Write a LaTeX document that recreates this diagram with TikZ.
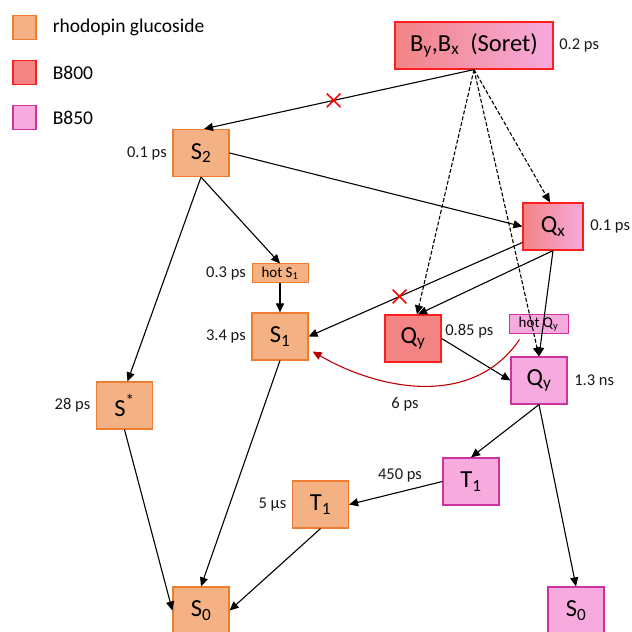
\documentclass[tikz,border=0pt]{standalone}
\usepackage{fontspec}
\setmainfont{Carlito}
\usetikzlibrary{arrows}
\usetikzlibrary{positioning}
\usetikzlibrary{arrows.meta,shapes.misc}
\definecolor{rgfill}{RGB}{244,177,131}
\definecolor{rgdraw}{RGB}{237,125,49}
\definecolor{bafill}{RGB}{242,132,132}
\definecolor{badraw}{RGB}{255,30,30}
\definecolor{bbfill}{RGB}{246,170,222}
\definecolor{bbdraw}{RGB}{204,51,160}
\colorlet{darkred}{red!75!black}

\begin{document}
\begin{tikzpicture}[x=1pt,y=1pt,
		every node/.style={
			font=\fontsize{16.5}{16.5}\selectfont,
			black!90, inner sep=1.5pt
		},
		state/.style={draw, line width=1.2pt, inner sep=0pt, minimum width=56pt, minimum height=47pt, font=\fontsize{24.5}{24.5}\selectfont, black},
		hot/.style={minimum height=19pt, line width=1pt, font=\fontsize{15}{15}\selectfont},
		rg/.style={state, fill=rgfill, draw=rgdraw},
		ba/.style={state, fill=bafill, draw=badraw},
		bb/.style={state, fill=bbfill, draw=bbdraw},
		mix/.style={state, draw=badraw, left color=bafill, right color=bbfill},
		key/.style={draw, line width=1.2pt, minimum width=23pt, minimum height=24pt, inner sep=0pt},
		keytext/.style={font=\fontsize{19.5}{19.5}\selectfont, black, inner sep=0pt},
		arr/.style={-{Triangle[length=9pt,width=8pt]}, line width=1.1pt, black},
		dasharr/.style={arr, dash pattern=on 4pt off 2pt},
		redarr/.style={-{Triangle[length=9pt,width=8pt]}, line width=1.1pt, darkred},
		xmark/.style={cross out, draw=red, line width=1.6pt, minimum size=12pt, inner sep=0pt}
	]

	\useasboundingbox (0,0) rectangle (632,632);

	% legend
	\foreach \fc/\dc/\txt [count=\i from 0] in {rgfill/rgdraw/rhodopin glucoside, bafill/badraw/B800, bbfill/bbdraw/B850}{
		\node[key, fill=\fc, draw=\dc] (key\i) at (24.5, 604.5-45*\i) {};
		\node[keytext, right=16pt of key\i] (keytxt\i) {\txt};
	}

	% states
	\node[mix, minimum width=158pt] (Soret) at (474,586.5) {B\textsubscript{y},B\textsubscript{x}\ \ (Soret)};
	\node[rg] (S2) at (201,479) {S\textsubscript{2}};
	\node[rg, hot] (hotS1) at (280,358.5) {hot S\textsubscript{1}};
	\node[rg] (S1) at (280,295.5) {S\textsubscript{1}};
	\node[rg] (Sstar) at (124.5,226.5) {S\textsuperscript{*}};
	\node[rg] (T1o) at (320.5,127.5) {T\textsubscript{1}};
	\node[rg] (S0o) at (201,21.5) {S\textsubscript{0}};
	\node[mix, minimum width=60pt] (Qx) at (553,405.5) {Q\textsubscript{x}};
	\node[ba] (Qyr) at (413,293.5) {Q\textsubscript{y}};
	\node[bb, hot, minimum width=59pt] (hotQy) at (538.5,307.5) {hot Q\textsubscript{y}};
	\node[bb] (Qyp) at (539,251.5) {Q\textsubscript{y}};
	\node[bb] (T1p) at (471,150.5) {T\textsubscript{1}};
	\node[bb] (S0p) at (576,21.5) {S\textsubscript{0}};

	% lifetimes
	\node[right=4pt of Soret] (tSoret) {0.2 ps};
	\node[left=4pt of S2] (tS2) {0.1 ps};
	\node[left=4pt of hotS1] (thotS1) {0.3 ps};
	\node[left=4pt of S1] (tS1) {3.4 ps};
	\node[left=4pt of Sstar] (tSstar) {28 ps};
	\node[left=4pt of T1o] (tT1o) {5 µs};
	\node[right=5pt of Qx] (tQx) {0.1 ps};
	\node[right=2pt of Qyr, yshift=7pt] (tQyr) {0.85 ps};
	\node[right=5pt of Qyp] (tQyp) {1.3 ns};
	\node (tT1p) at (400,157) {450 ps};
	\node (tcurve) at (405,228) {6 ps};

	% transfer
	\draw[arr] (Soret.south) -- node[xmark, pos=0.52] (x1) {} ([xshift=3pt]S2.north);
	\draw[dasharr] (Soret.south) -- ([xshift=-3pt]Qx.north);
	\draw[dasharr] (Soret.south) -- ([xshift=4pt]Qyr.north);
	\draw[dasharr] (Soret.south) -- (Qyp.north);
	\draw[arr] (S2.east) -- (Qx.west);
	\draw[arr] ([yshift=-16pt]Qx.west) -- node[xmark, pos=0.575] (x2) {} (S1.east);
	\draw[arr] (Qx.south) -- ([xshift=5pt]Qyr.north);
	\draw[arr] (Qx.south) -- (Qyp.north);
	\draw[arr] (Qyr.east) -- (Qyp.west);

	% relaxation
	\draw[arr] (S2.south) -- (hotS1.north);
	\draw[arr] (S2.south) -- ([xshift=3pt]Sstar.north);
	\draw[arr] (hotS1.south) -- (S1.north);
	\draw[arr] (S1.south) -- (S0o.north);
	\draw[arr] (Sstar.south) -- (S0o.west);
	\draw[arr] (T1o.south) -- (S0o.east);
	\draw[arr] (Qyp.south) -- (T1p.north);
	\draw[arr] (Qyp.south) -- (S0p.north);
	\draw[arr] (T1p.west) -- (T1o.east);

	\coordinate (hotQyend) at ([xshift=11pt,yshift=-5pt]hotQy.south west);
	\draw[redarr] (hotQyend) to[out=236,in=-30] ([xshift=4pt,yshift=-15pt]S1.east);

\end{tikzpicture}
\end{document}
